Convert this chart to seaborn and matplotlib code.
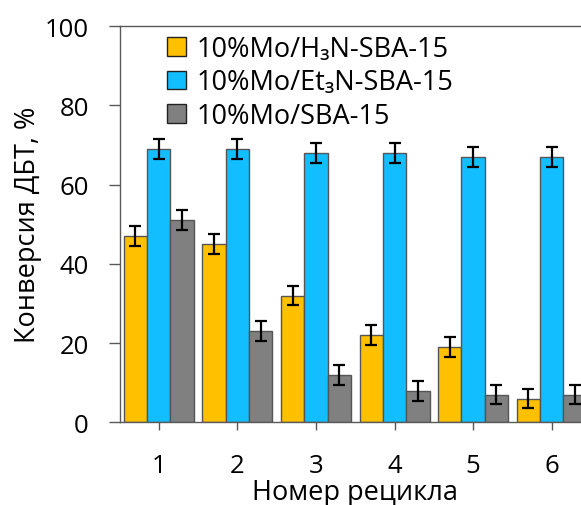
import matplotlib
matplotlib.use("Agg")
import matplotlib.pyplot as plt
import seaborn as sns
import pandas as pd

# Recycle runs and DBT conversion (%) for each catalyst
cycles = ["1", "2", "3", "4", "5", "6"]
series_names = ["10%Mo/H₃N-SBA-15", "10%Mo/Et₃N-SBA-15", "10%Mo/SBA-15"]
conv_h3n = [47, 45, 32, 22, 19, 6]
conv_et3n = [69, 69, 68, 68, 67, 67]
conv_sba = [51, 23, 12, 8, 7, 7]
err_h3n = [2.5, 2.5, 2.5, 2.5, 2.5, 2.5]
err_et3n = [2.5, 2.5, 2.5, 2.5, 2.5, 2.5]
err_sba = [2.5, 2.5, 2.5, 2.5, 2.5, 2.5]
colors = ["#FFC000", "#12BEFF", "#808080"]
y_ticks = [0, 20, 40, 60, 80, 100]

values = [conv_h3n, conv_et3n, conv_sba]
errors = [err_h3n, err_et3n, err_sba]
df = pd.DataFrame({
    "cycle": [c for _ in series_names for c in cycles],
    "series": [s for s in series_names for _ in cycles],
    "conv": [v for vals in values for v in vals],
})

sns.set_theme(style="white")
plt.rcParams["font.family"] = ["Open Sans", "DejaVu Sans"]
plt.rcParams["text.color"] = "black"
plt.rcParams["axes.labelcolor"] = "black"
plt.rcParams["xtick.color"] = "black"
plt.rcParams["ytick.color"] = "black"

fig = plt.figure(figsize=(5.81, 5.06), dpi=100)
ax = fig.add_axes([0.2057, 0.1634, 0.8115, 0.7832])

sns.barplot(data=df, x="cycle", y="conv", hue="series", order=cycles,
            hue_order=series_names, palette=colors, width=0.89,
            errorbar=None, edgecolor="#555555", linewidth=1.0, ax=ax,
            saturation=1)

# error bars on top of each bar, following the seaborn patch order
bars = [p for p in ax.patches if p.get_height() > 0]
flat_err = [e for errs in errors for e in errs]
for p, e in zip(bars, flat_err):
    ax.errorbar(p.get_x() + p.get_width() / 2, p.get_height(), yerr=e,
                fmt="none", ecolor="black", elinewidth=1.6, capsize=4,
                capthick=1.6, zorder=5)

ax.set_ylim(0, 100)
ax.set_xlim(-0.5, 5.5)
ax.set_yticks(y_ticks)
ax.set_yticklabels([str(t) for t in y_ticks])
ax.tick_params(axis="y", direction="out", length=8, width=1,
               color="#595959", labelcolor="black", labelsize=18.5,
               pad=14, left=True)
ax.tick_params(axis="x", direction="out", length=6, width=1,
               color="#595959", labelcolor="black", labelsize=18.5,
               pad=16, bottom=True)

for side in ["left", "bottom", "top"]:
    ax.spines[side].set_visible(True)
    ax.spines[side].set_color("#595959")
    ax.spines[side].set_linewidth(1.0)
ax.spines["right"].set_visible(False)

ax.set_xlabel("Номер рецикла", fontsize=19.5, labelpad=0, color="black")
ax.set_ylabel("Конверсия ДБТ, %", fontsize=19.5, labelpad=2, color="black")

handles, labels = ax.get_legend_handles_labels()
for h in handles:
    h.set_edgecolor("#222222")
leg = ax.legend(handles, labels, loc="upper left",
                bbox_to_anchor=(0.06, 1.025), frameon=False, fontsize=19.5,
                handlelength=0.7, handleheight=0.7, handletextpad=0.4,
                labelspacing=0.2, borderaxespad=0.3)
for t in leg.get_texts():
    t.set_color("black")

fig.savefig("out.png", dpi=100)
